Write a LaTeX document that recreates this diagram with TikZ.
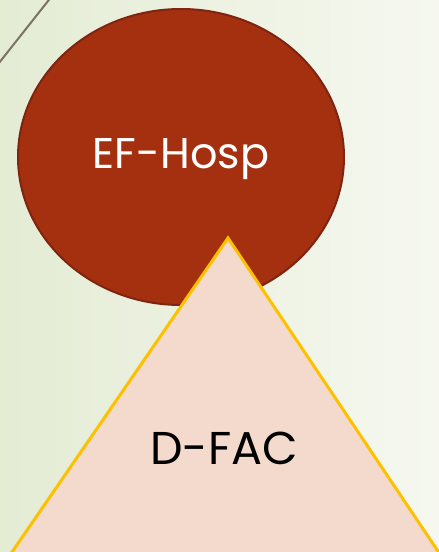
\documentclass[tikz,border=0pt]{standalone}
\usepackage{fontspec}
\setmainfont{Poppins}
\usetikzlibrary{shapes.geometric}
\definecolor{bgL}{HTML}{E4ECD4}
\definecolor{bgR}{HTML}{F6F8F0}
\definecolor{efred}{HTML}{A5300F}
\definecolor{efedge}{HTML}{7E2410}
\definecolor{tripink}{HTML}{F3DACD}
\definecolor{triedge}{HTML}{FFC000}
\definecolor{deco}{HTML}{7A7462}
\tikzset{
  ovalbox/.style={ellipse, fill=efred, draw=efedge, line width=2pt, minimum width=326pt, minimum height=296pt, inner sep=0pt},
  tribox/.style={fill=tripink, draw=triedge, line width=3pt, line join=miter},
  lbl/.style={inner sep=0pt},
}
\begin{document}
\begin{tikzpicture}[x=1pt,y=1pt]
\useasboundingbox (0,0) rectangle (439,-552);
\clip (0,0) rectangle (439,-552);
\shade[left color=bgL, right color=bgR] (0,0) rectangle (439,-552);
\coordinate (d1) at (-5,-68);
\coordinate (d2) at (52,4);
\draw[deco, line width=2pt] (d1) -- (d2);
\node[ovalbox] (ef) at (181,-157) {};
\node[lbl, text=white, font=\fontsize{43}{50}\selectfont] (eft) at (181,-159) {EF-Hosp};
\coordinate (apex) at (228,-238);
\coordinate (bl) at (-10,-584);
\coordinate (br) at (460,-584);
\draw[tribox] (apex) -- (bl) -- (br) -- cycle;
\node[lbl, text=black, font=\fontsize{46}{52}\selectfont] (df) at (224,-448) {D-FAC};
\end{tikzpicture}
\end{document}
